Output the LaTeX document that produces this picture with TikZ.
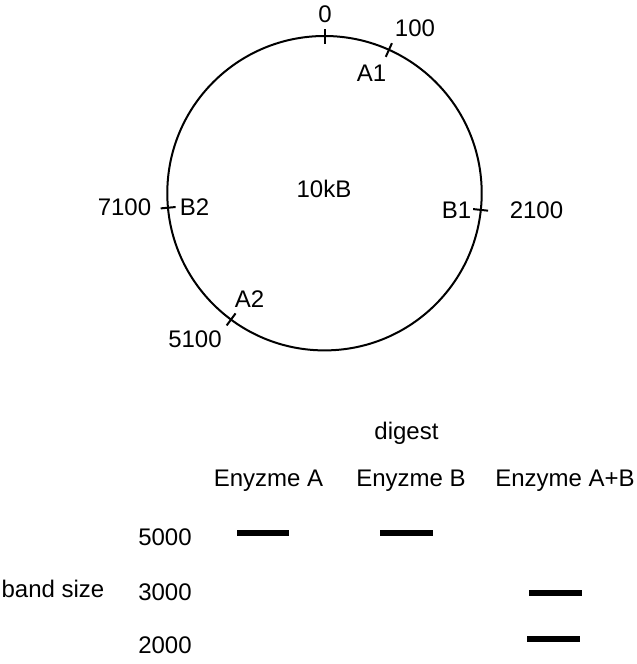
\documentclass[tikz,border=0pt]{standalone}
\usepackage{fontspec}
\setmainfont{Liberation Sans}
\begin{document}
\begin{tikzpicture}[x=1pt,y=-1pt,
  lbl/.style={inner sep=0pt, anchor=base, font=\fontsize{24}{28}\selectfont},
  ring/.style={line width=2pt},
  tickmark/.style={line width=2pt},
  band/.style={line width=6pt}]
\useasboundingbox (0,0) rectangle (637,664);
% plasmid
\coordinate (c) at (324.5,193.2);
\draw[ring] (c) circle[radius=157.2];
% cut sites (angles negated because y axis points down)
\foreach \n/\a in {t0/-90, tA1/-65.8, tB1/6.1, tB2/174.7, tA2/126.5}{
  \coordinate (\n-in) at ([shift={(\a:149.5)}]c);
  \coordinate (\n-out) at ([shift={(\a:164.5)}]c);
  \draw[tickmark] (\n-in) -- (\n-out);
}
\node[lbl] (l0) at (325,22) {0};
\node[lbl] (l100) at (415,36.7) {100};
\node[lbl] (lA1) at (371.5,81) {A1};
\node[lbl] (l7100) at (124.5,215) {7100};
\node[lbl] (lB2) at (194.5,215) {B2};
\node[lbl] (lA2) at (249.5,307) {A2};
\node[lbl] (l5100) at (195,347) {5100};
\node[lbl] (lB1) at (456.5,218) {B1};
\node[lbl] (l2100) at (536.5,218) {2100};
\node[lbl] (size) at (324,197) {10kB};
% gel
\node[lbl] (digest) at (406.5,439) {digest};
\node[lbl] (laneA) at (268.5,486) {Enyzme A};
\node[lbl] (laneB) at (411,486) {Enyzme B};
\node[lbl] (laneAB) at (565,486.5) {Enzyme A+B};
\node[lbl] (m5000) at (165,545) {5000};
\node[lbl] (m3000) at (165,600) {3000};
\node[lbl] (m2000) at (165,653) {2000};
\node[lbl] (bandsize) at (53,597) {band size};
\coordinate (bA1) at (237,533.3); \coordinate (bA2) at (289,533.3);
\coordinate (bB1) at (380,533.3); \coordinate (bB2) at (433,533.3);
\coordinate (bC1) at (529,593.3); \coordinate (bC2) at (582,593.3);
\coordinate (bD1) at (527,639.3); \coordinate (bD2) at (580,639.3);
\draw[band] (bA1) -- (bA2);
\draw[band] (bB1) -- (bB2);
\draw[band] (bC1) -- (bC2);
\draw[band] (bD1) -- (bD2);
\end{tikzpicture}
\end{document}
